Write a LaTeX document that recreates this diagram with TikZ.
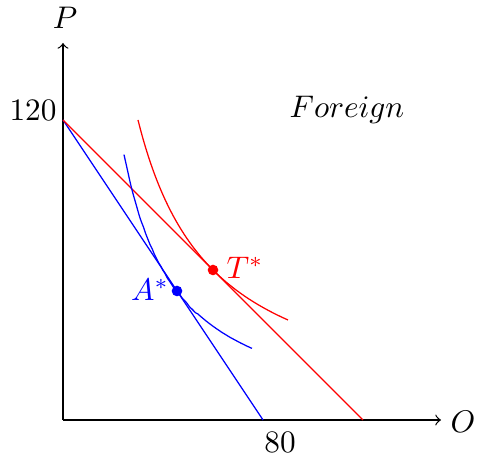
\documentclass[tikz,border=0pt]{standalone}
\begin{document}
\begin{tikzpicture}[x=0.8pt,y=0.8pt,
  dot/.style={circle,fill,inner sep=0pt,minimum size=3.4pt},
  lbl/.style={inner sep=0pt}]
\useasboundingbox (-25.2,-15.2) rectangle (165.6,168);
\coordinate (o) at (0,0);
\coordinate (xe) at (151.2,0);
\coordinate (ye) at (0,150.8);
\coordinate (y120) at (0,120);
\coordinate (xb) at (80,0);
\coordinate (xr) at (120,0);
\draw[->] (o) -- (xe);
\draw[->] (o) -- (ye);
\node[lbl] (P) at (0.8,160.8) {$P$};
\node[lbl] (O) at (160,-0.8) {$O$};
\node[lbl] (l120) at (-12,124) {$120$};
\node[lbl] (l80) at (86.8,-8.8) {$80$};
\node[lbl] (F) at (113.6,124) {$Foreign$};
\draw[blue] (y120) -- (xb);
\draw[red] (y120) -- (xr);
\draw[red] plot[domain=30:90,samples=60,smooth] (\x,{3600/\x});
\draw[blue] plot[domain=24.4:75.6,samples=60,smooth] (\x,{4334*\x^(-1.16)});
\node[dot,red] (T) at (60,60) {};
\node[dot,blue] (A) at (45.6,51.6) {};
\node[lbl,red,anchor=west] (Tl) at (65.2,60.8) {$T^*$};
\node[lbl,blue] (Al) at (34.8,52) {$A^*$};
\end{tikzpicture}
\end{document}
